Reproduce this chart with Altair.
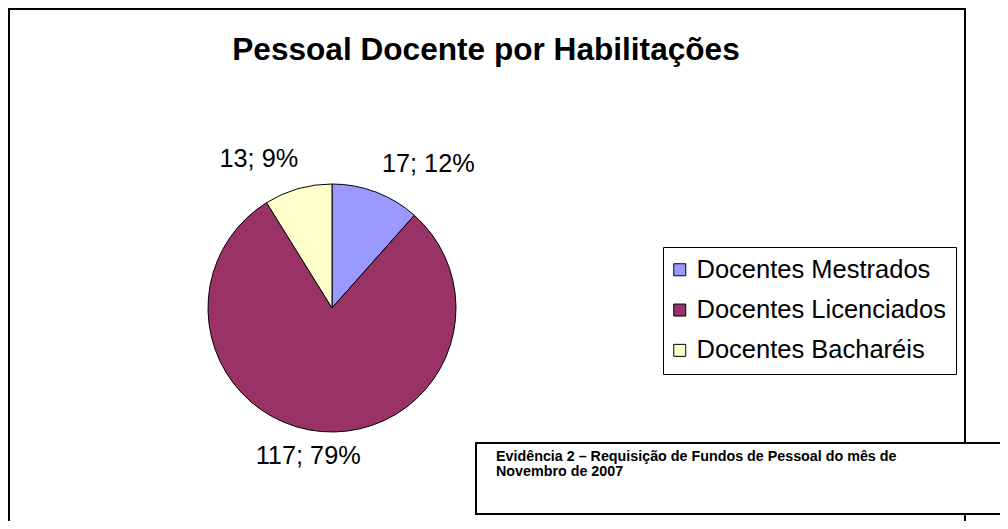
import altair as alt
import pandas as pd

categories = ["Docentes Mestrados", "Docentes Licenciados", "Docentes Bacharéis"]
counts = [17, 117, 13]
percents = [12, 79, 9]
colors = ["#9999FF", "#993366", "#FFFFCC"]
title_text = "Pessoal Docente por Habilitações"
caption_lines = ["Evidência 2 – Requisição de Fundos de Pessoal do mês de", "Novembro de 2007"]

FONT = "Liberation Sans"
CX, CY, R = 324, 299, 124

df = pd.DataFrame({
    "cat": categories,
    "value": counts,
    "pct": percents,
    "idx": list(range(len(categories))),
})
df["label"] = [f"{v}; {p}%" for v, p in zip(counts, percents)]

base = alt.Chart(df)
one = alt.Data(values=[{}])

frame = alt.Chart(one).mark_rect(fill="white", stroke="black", strokeWidth=2).encode(
    x=alt.value(1), x2=alt.value(957), y=alt.value(0), y2=alt.value(540)
)

title = alt.Chart(one).mark_text(
    text=title_text, font=FONT, fontSize=31.6, fontWeight="bold", align="center",
    baseline="alphabetic", color="black"
).encode(x=alt.value(478), y=alt.value(51))

caption_box = alt.Chart(one).mark_rect(fill="white", stroke="black", strokeWidth=2).encode(
    x=alt.value(468), x2=alt.value(1010), y=alt.value(434), y2=alt.value(505)
)
caption = alt.Chart(one).mark_text(
    text=caption_lines, font=FONT, fontSize=14.3, fontWeight="bold", align="left",
    baseline="alphabetic", lineHeight=15, color="black"
).encode(x=alt.value(488), y=alt.value(452))

pie = base.mark_arc(outerRadius=R, stroke="black", strokeWidth=1, opacity=1).encode(
    theta=alt.Theta("value:Q", stack=True),
    order=alt.Order("idx:Q"),
    color=alt.Color(
        "cat:N",
        sort=categories,
        scale=alt.Scale(domain=categories, range=colors),
        legend=alt.Legend(
            orient="none", legendX=655, legendY=238, title=None,
            symbolType="square", symbolSize=144, symbolStrokeColor="black",
            symbolStrokeWidth=1, symbolOpacity=1, symbolOffset=-6,
            labelFontSize=25.5, labelFont=FONT, labelColor="black",
            labelOffset=4, rowPadding=13.3, padding=10,
            strokeColor="black", fillColor="white", labelLimit=500,
        ),
    ),
    x=alt.value(CX), y=alt.value(CY),
)

offsets = {
    categories[0]: (43, -4),
    categories[1]: (-11, -1),
    categories[2]: (-32, -5),
}

labels = []
for c in categories:
    dx, dy = offsets[c]
    labels.append(
        base.mark_text(radius=150, font=FONT, fontSize=25.3, color="black",
                       align="center", baseline="middle", dx=dx, dy=dy).encode(
            theta=alt.Theta("value:Q", stack=True),
            order=alt.Order("idx:Q"),
            text=alt.condition(f"datum.cat == '{c}'", "label:N", alt.value("")),
            x=alt.value(CX), y=alt.value(CY),
        )
    )

chart = alt.layer(frame, title, caption_box, caption, pie, *labels).properties(
    width=992, height=513,
    autosize=alt.AutoSizeParams(type="fit", contains="padding"),
    padding=0,
).configure_view(stroke=None)

chart.save("out.html", embed_options={"renderer": "svg", "actions": False})
